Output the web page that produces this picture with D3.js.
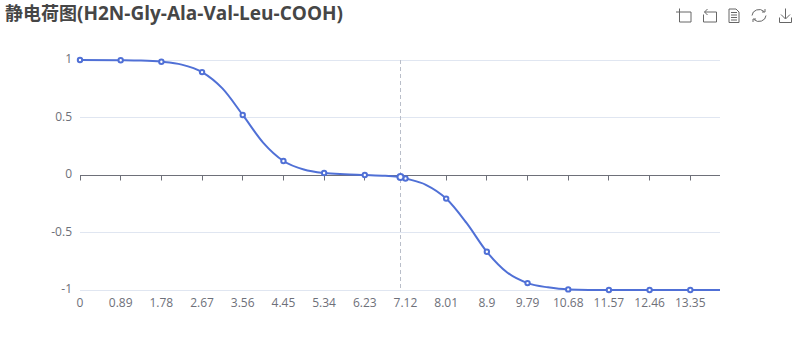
<!DOCTYPE html>
<html><head><meta charset="utf-8">
<script src="https://cdn.jsdelivr.net/npm/d3@7"></script>
<style>html,body{margin:0;padding:0;background:#fff}svg{display:block}</style>
</head><body><svg id="c" width="800" height="360"></svg>
<script>
const titleCjk = "静电荷图";
const titleLatin = "(H2N-Gly-Ala-Val-Leu-COOH)";
const xValues = [0,0.89,1.335,1.78,2.225,2.67,3.115,3.56,4.005,4.45,4.895,5.34,5.785,6.23,6.675,7.01,7.12,7.565,8.01,8.455,8.9,9.345,9.79,10.235,10.68,11.57,12.46,13.35,14];
const charges = [1,0.998,0.995,0.985,0.96,0.895,0.753,0.522,0.282,0.122,0.048,0.017,0.006,0,-0.007,-0.018,-0.03,-0.085,-0.205,-0.417,-0.668,-0.848,-0.94,-0.977,-0.995,-1,-1,-1,-1];
const xTickValues = [0,0.89,1.78,2.67,3.56,4.45,5.34,6.23,7.12,8.01,8.9,9.79,10.68,11.57,12.46,13.35];
const yTickValues = [1,0.5,0,-0.5,-1];
const hoverX = 7.01;
const hoverY = -0.018;

const font = '"Open Sans","Noto Sans CJK SC",sans-serif';
const lineColor = "#5070D6";
const svg = d3.select("#c");
const x = d3.scaleLinear().domain([0,14]).range([80,720]);
const y = d3.scaleLinear().domain([-1,1]).range([290,60]);

const title = svg.append("text").attr("x",5).attr("y",20).attr("font-family",font)
  .attr("font-weight",700).attr("fill","#464646");
title.append("tspan").attr("font-size",18).text(titleCjk);
title.append("tspan").attr("font-size",19).text(titleLatin);

svg.append("g").selectAll("line").data(yTickValues.filter(d=>d!==0)).join("line")
  .attr("x1",80).attr("x2",720).attr("y1",d=>Math.floor(y(d))+.5).attr("y2",d=>Math.floor(y(d))+.5)
  .attr("stroke","#E0E6F1");

svg.append("g").selectAll("text").data(yTickValues).join("text")
  .attr("x",72).attr("y",d=>y(d)-1).attr("dy","0.35em").attr("text-anchor","end")
  .attr("font-family",font).attr("font-size",12).attr("fill","#6E7079").text(d=>d);

const zero = Math.floor(y(0))+.5;
svg.append("line").attr("x1",80).attr("x2",720).attr("y1",zero).attr("y2",zero).attr("stroke","#6E7079");
svg.append("g").selectAll("line").data(xTickValues).join("line")
  .attr("x1",d=>Math.floor(x(d))+.5).attr("x2",d=>Math.floor(x(d))+.5)
  .attr("y1",zero).attr("y2",zero+5).attr("stroke","#6E7079");
svg.append("g").selectAll("text").data(xTickValues).join("text")
  .attr("x",d=>x(d)).attr("y",303).attr("dy","0.35em").attr("text-anchor","middle")
  .attr("font-family",font).attr("font-size",12).attr("fill","#6E7079").text(d=>d);

svg.append("line").attr("x1",Math.floor(x(hoverX))+.5).attr("x2",Math.floor(x(hoverX))+.5)
  .attr("y1",60).attr("y2",290).attr("stroke","#B9BEC9").attr("stroke-dasharray","4,3");

const pairs = xValues.map((v,i)=>[v,charges[i]]);
const line = d3.line().x(d=>x(d[0])).y(d=>y(d[1])).curve(d3.curveMonotoneX);
svg.append("path").datum(pairs).attr("d",line).attr("fill","none").attr("stroke",lineColor).attr("stroke-width",2);

svg.append("g").selectAll("circle").data(pairs.filter(d=>xTickValues.includes(d[0]))).join("circle")
  .attr("cx",d=>x(d[0])).attr("cy",d=>y(d[1])).attr("r",2.2)
  .attr("fill","#fff").attr("stroke",lineColor).attr("stroke-width",2);
svg.append("circle").attr("cx",x(hoverX)).attr("cy",y(hoverY)).attr("r",3)
  .attr("fill","#fff").attr("stroke",lineColor).attr("stroke-width",2);

const icons = [
 {x:676,p:"M0 3.5H15 M3.5 0V13.5H15V3.5"},
 {x:703,p:"M6 3.5H13.5V13.5H0.5V6 M4.5 0.5L1.5 3.5L4.5 6.5 M1.5 3.5H6"},
 {x:728.5,p:"M0.5 0.5H7.5L10.5 3.5V14H0.5Z M2.5 4H8.5 M2.5 6.5H8.5 M2.5 9H8.5 M2.5 11.5H8.5"},
 {x:751,p:"M1 7A7 6.5 0 0 1 13 3 M15 7A7 6.5 0 0 1 3 11 M11 3.5H14V0.5 M5 10.5H2V13.5"},
 {x:779,p:"M6.5 0V10 M2 6L6.5 10.5L11 6 M0.5 9V14H12.5V9"}
];
svg.append("g").selectAll("path").data(icons).join("path")
  .attr("transform",d=>`translate(${d.x},8.5)`).attr("d",d=>d.p)
  .attr("fill","none").attr("stroke","#666").attr("stroke-width",1);
</script></body></html>
